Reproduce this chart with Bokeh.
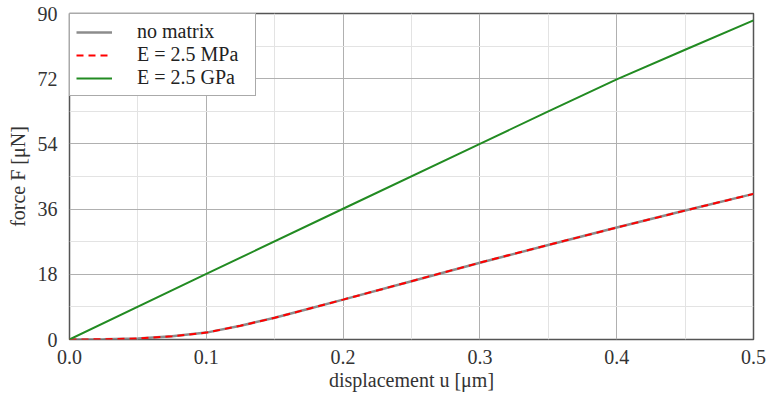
from bokeh.plotting import figure
from bokeh.models import FixedTicker, Legend, LegendItem, Range1d, PrintfTickFormatter
from bokeh.embed import file_html
from bokeh.resources import INLINE

# ---- data ----
u_soft = [0, 0.025, 0.05, 0.075, 0.1, 0.125, 0.15, 0.175, 0.2, 0.25, 0.3, 0.35, 0.4, 0.45, 0.5]
F_nomatrix = [0, 0.05, 0.3, 0.9, 1.9, 3.8, 6.0, 8.5, 11.0, 16.1, 21.2, 26.1, 30.9, 35.6, 40.2]
F_mpa = [0, 0.05, 0.3, 0.9, 1.9, 3.8, 6.0, 8.5, 11.0, 16.1, 21.2, 26.1, 30.9, 35.6, 40.2]
u_stiff = [0, 0.1, 0.2, 0.3, 0.35, 0.4, 0.45, 0.5]
F_gpa = [0, 18.1, 36.1, 54.0, 63.0, 71.8, 80.0, 88.1]

x_ticks = [0.0, 0.1, 0.2, 0.3, 0.4, 0.5]
x_minor = [0.05, 0.15, 0.25, 0.35, 0.45]
y_ticks = [0, 18, 36, 54, 72, 90]
y_minor = [9, 27, 45, 63, 81]

labels = ["no matrix", "E = 2.5 MPa", "E = 2.5 GPa"]
x_title = "displacement u [μm]"
y_title = "force F [μN]"

FONT = "Liberation Serif"
W, H = 769, 398
L, R, T, B = 69, 16, 13, 59

p = figure(width=W, height=H, x_range=Range1d(0, 0.5), y_range=Range1d(0, 90),
           output_backend="svg", toolbar_location=None,
           min_border_left=L, min_border_right=R, min_border_top=T, min_border_bottom=B)
p.background_fill_color = "white"
p.border_fill_color = "white"
p.outline_line_color = "#555555"
p.outline_line_width = 1.5

p.xaxis.ticker = FixedTicker(ticks=x_ticks, minor_ticks=x_minor)
p.yaxis.ticker = FixedTicker(ticks=y_ticks, minor_ticks=y_minor)
p.xaxis.formatter = PrintfTickFormatter(format="%.1f")
p.xaxis.axis_label = x_title
p.yaxis.axis_label = y_title
for ax in (p.xaxis, p.yaxis):
    ax.axis_line_color = None
    ax.major_tick_line_color = None
    ax.minor_tick_line_color = None
    ax.major_label_text_font = FONT
    ax.major_label_text_font_size = "20px"
    ax.major_label_text_color = "#333333"
    ax.axis_label_text_font = FONT
    ax.axis_label_text_font_size = "20px"
    ax.axis_label_text_font_style = "normal"
    ax.axis_label_text_color = "#333333"
p.xaxis.major_label_standoff = 4
p.yaxis.major_label_standoff = 6
p.xaxis.axis_label_standoff = 2
p.yaxis.axis_label_standoff = 6

p.grid.grid_line_color = "#b0b0b0"
p.grid.grid_line_width = 1
p.grid.minor_grid_line_color = "#e3e3e3"
p.grid.minor_grid_line_width = 1

r0 = p.line(u_soft, F_nomatrix, line_color="#8c8c8c", line_width=2.5)
r1 = p.line(u_soft, F_mpa, line_color="#ff0000", line_width=2, line_dash="7 5")
r2 = p.line(u_stiff, F_gpa, line_color="#228b22", line_width=2)

legend = Legend(items=[LegendItem(label=labels[0], renderers=[r0]),
                       LegendItem(label=labels[1], renderers=[r1]),
                       LegendItem(label=labels[2], renderers=[r2])],
                location="top_left", margin=0, padding=6, spacing=0,
                glyph_width=36, glyph_height=20, label_height=20, label_standoff=25,
                label_width=112,
                label_text_font=FONT, label_text_font_size="20px", label_text_color="#222222",
                border_line_color="#555555", border_line_width=1.5,
                background_fill_color="white", background_fill_alpha=1.0)
p.add_layout(legend)

open("out.html", "w").write(file_html(p, INLINE))
